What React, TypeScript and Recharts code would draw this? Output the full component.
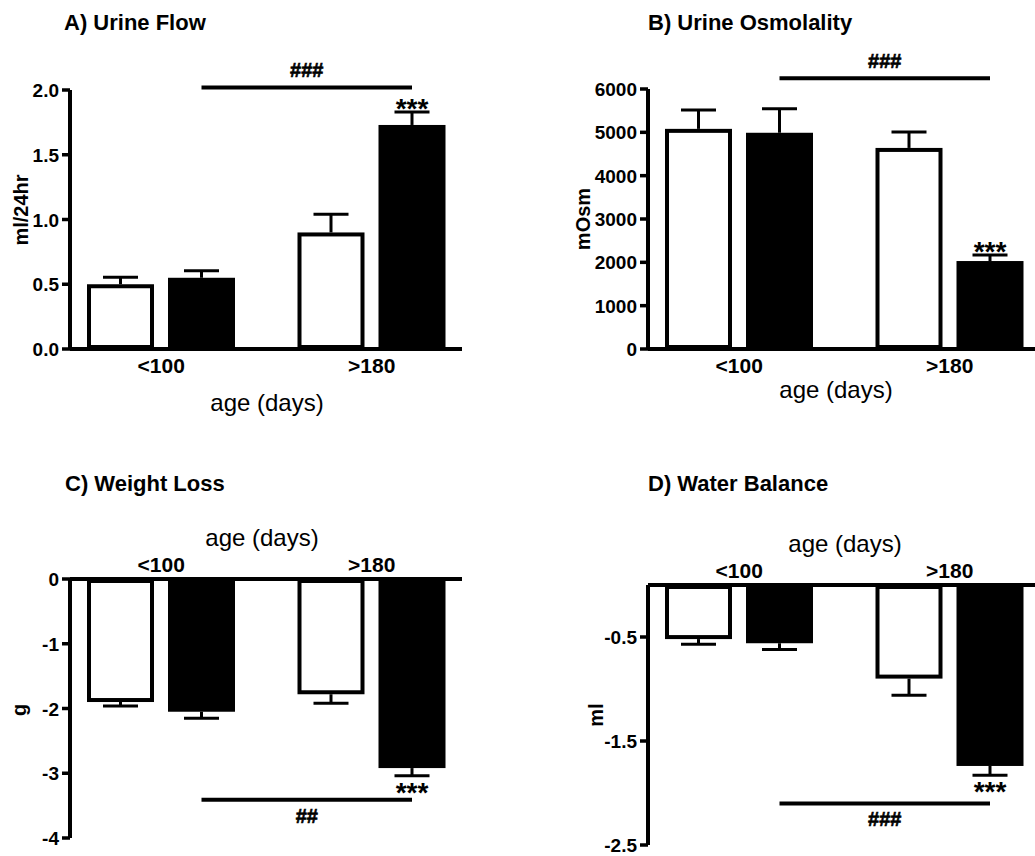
import React from 'react';
import { BarChart, Bar, XAxis, YAxis } from 'recharts';

const FONT = '"Liberation Sans", Arial, Helvetica, sans-serif';

const ageGroups = ['<100', '>180'];

// A) Urine Flow, ml/24hr
const flowOpen = [0.5, 0.9];
const flowOpenSem = [0.055, 0.14];
const flowFilled = [0.55, 1.73];
const flowFilledSem = [0.055, 0.1];
const flowStars = ['', '***'];
const flowTicks = [0, 0.5, 1.0, 1.5, 2.0];

// B) Urine Osmolality, mOsm
const osmOpen = [5080, 4640];
const osmOpenSem = [435, 370];
const osmFilled = [4990, 2030];
const osmFilledSem = [555, 140];
const osmStars = ['', '***'];
const osmTicks = [0, 1000, 2000, 3000, 4000, 5000, 6000];

// C) Weight Loss, g
const weightOpen = [-1.9, -1.78];
const weightOpenSem = [0.06, 0.14];
const weightFilled = [-2.05, -2.92];
const weightFilledSem = [0.1, 0.12];
const weightStars = ['', '***'];
const weightTicks = [0, -1, -2, -3, -4];

// D) Water Balance, ml
const balanceOpen = [-0.52, -0.9];
const balanceOpenSem = [0.05, 0.16];
const balanceFilled = [-0.56, -1.74];
const balanceFilledSem = [0.06, 0.09];
const balanceStars = ['', '***'];
const balanceTicks = [-0.5, -1.5, -2.5];

type Row = {
  age: string;
  open: number;
  filled: number;
  openSem: number;
  filledSem: number;
};

const buildRows = (open: number[], openSem: number[], filled: number[], filledSem: number[]): Row[] =>
  ageGroups.map((age, i) => ({
    age,
    open: open[i],
    filled: filled[i],
    openSem: openSem[i],
    filledSem: filledSem[i],
  }));

const OUTLINE = 4;
const CAP = 17.5;

// one-sided SEM bar, away from zero, in the bar's own pixel scale
function semMark(props: any, v: number, sem: number) {
  const { x, y, width, height } = props;
  const zero = y + height;
  const k = height / v;
  const at = (u: number) => zero - u * k;
  const cx = x + width / 2;
  const capY = at(v + (v >= 0 ? sem : -sem));
  return {
    capY,
    at,
    cx,
    el: (
      <g stroke="#000" strokeWidth={3}>
        <line x1={cx} x2={cx} y1={y} y2={capY} />
        <line x1={cx - CAP} x2={cx + CAP} y1={capY} y2={capY} />
      </g>
    ),
  };
}

const OpenBar = (props: any) => {
  const { x, y, width, height, payload } = props;
  const top = Math.min(y, y + height);
  const h = Math.abs(height);
  const err = semMark(props, payload.open, payload.openSem);
  return (
    <g>
      <rect
        x={x + OUTLINE / 2}
        y={top + OUTLINE / 2}
        width={width - OUTLINE}
        height={Math.max(h - OUTLINE, 0)}
        fill="#fff"
        stroke="#000"
        strokeWidth={OUTLINE}
      />
      {err.el}
    </g>
  );
};

// filled bar also carries the significance marks and the bracket between the two filled bars
function makeFilledBar(stars: string[], bracketLevel: number, bracketText: string) {
  const centers: number[] = [];
  return (props: any) => {
    const { x, y, width, height, index, payload } = props;
    const v: number = payload.filled;
    const err = semMark(props, v, payload.filledSem);
    const cx = err.cx;
    centers[index] = cx;
    const top = Math.min(y, y + height);
    const up = v >= 0;
    const star = stars[index];
    const last = index === ageGroups.length - 1;
    const lineY = err.at(bracketLevel);
    return (
      <g>
        <rect x={x} y={top} width={width} height={Math.abs(height)} fill="#000" />
        {err.el}
        {star ? (
          <text x={cx} y={up ? err.capY + 6 : err.capY + 26} textAnchor="middle" fontSize={28} fontWeight="bold" fontFamily={FONT} fill="#000">
            {star}
          </text>
        ) : null}
        {last && centers[0] !== undefined ? (
          <g>
            <line x1={centers[0]} x2={cx} y1={lineY} y2={lineY} stroke="#000" strokeWidth={4} />
            <text
              x={(centers[0] + cx) / 2}
              y={up ? lineY - 10 : lineY + 23}
              textAnchor="middle"
              fontSize={20}
              fontWeight="bold"
              fontFamily={FONT}
              fill="#000"
              stroke="#000"
              strokeWidth={0.6}
            >
              {bracketText}
            </text>
          </g>
        ) : null}
      </g>
    );
  };
}

const BottomTick = (p: any) => (
  <text x={p.x} y={p.y + 24} textAnchor="middle" fontSize={21} fontWeight="bold" fontFamily={FONT} fill="#000">
    {p.payload.value}
  </text>
);

const TopTick = (p: any) => (
  <text x={p.x} y={p.y - 7} textAnchor="middle" fontSize={21} fontWeight="bold" fontFamily={FONT} fill="#000">
    {p.payload.value}
  </text>
);

interface PanelProps {
  rows: Row[];
  domain: [number, number];
  ticks: number[];
  fmt: (v: number) => string;
  axisTop?: boolean;
  left: number;
  top: number;
  width: number;
  height: number;
  margin: { top: number; right: number; bottom: number; left: number };
  stars: string[];
  bracketLevel: number;
  bracketText: string;
}

function Panel(p: PanelProps) {
  const filledShape = makeFilledBar(p.stars, p.bracketLevel, p.bracketText);
  return (
    <div style={{ position: 'absolute', left: p.left, top: p.top }}>
      <BarChart width={p.width} height={p.height} data={p.rows} margin={p.margin} barGap={14}>
        <XAxis
          dataKey="age"
          orientation={p.axisTop ? 'top' : 'bottom'}
          height={30}
          padding={{ left: -14, right: -15 }}
          tickLine={false}
          tickSize={0}
          tickMargin={0}
          interval={0}
          axisLine={{ stroke: '#000', strokeWidth: 4 }}
          tick={p.axisTop ? TopTick : BottomTick}
        />
        <YAxis
          type="number"
          domain={p.domain}
          ticks={p.ticks}
          interval={0}
          width={70}
          tickSize={8}
          tickMargin={3}
          axisLine={{ stroke: '#000', strokeWidth: 4 }}
          tickLine={{ stroke: '#000', strokeWidth: 3.5 }}
          tick={(t: any) => (
            <text x={t.x} y={t.y + 7} textAnchor="end" fontSize={19} fontWeight="bold" fontFamily={FONT} fill="#000">
              {p.fmt(t.payload.value)}
            </text>
          )}
        />
        <Bar dataKey="open" barSize={67} shape={OpenBar} isAnimationActive={false} />
        <Bar dataKey="filled" barSize={67} shape={filledShape} isAnimationActive={false} />
      </BarChart>
    </div>
  );
}

const titleStyle = { fontSize: 22, fontWeight: 'bold' as const, fontFamily: FONT, fill: '#000' };
const yTitleStyle = { fontSize: 20, fontWeight: 'bold' as const, fontFamily: FONT, fill: '#000' };
const ageStyle = { fontSize: 24, fontFamily: FONT, fill: '#000' };

export default function App() {
  return (
    <div style={{ position: 'absolute', left: 0, top: 0, width: 1035, height: 856, overflow: 'hidden', background: '#fff' }}>
      <Panel
        rows={buildRows(flowOpen, flowOpenSem, flowFilled, flowFilledSem)}
        domain={[0, 2]}
        ticks={flowTicks}
        fmt={(v) => v.toFixed(1)}
        left={0}
        top={0}
        width={517}
        height={420}
        margin={{ top: 90, right: 55, bottom: 41, left: 0 }}
        stars={flowStars}
        bracketLevel={2.02}
        bracketText="###"
      />
      <Panel
        rows={buildRows(osmOpen, osmOpenSem, osmFilled, osmFilledSem)}
        domain={[0, 6000]}
        ticks={osmTicks}
        fmt={(v) => String(v)}
        left={578}
        top={0}
        width={470}
        height={420}
        margin={{ top: 89, right: 8, bottom: 41, left: 0 }}
        stars={osmStars}
        bracketLevel={6250}
        bracketText="###"
      />
      <Panel
        rows={buildRows(weightOpen, weightOpenSem, weightFilled, weightFilledSem)}
        domain={[-4, 0]}
        ticks={weightTicks}
        fmt={(v) => String(v)}
        axisTop
        left={0}
        top={440}
        width={517}
        height={416}
        margin={{ top: 109, right: 55, bottom: 18, left: 0 }}
        stars={weightStars}
        bracketLevel={-3.41}
        bracketText="##"
      />
      <Panel
        rows={buildRows(balanceOpen, balanceOpenSem, balanceFilled, balanceFilledSem)}
        domain={[-2.5, 0]}
        ticks={balanceTicks}
        fmt={(v) => v.toFixed(1)}
        axisTop
        left={578}
        top={440}
        width={470}
        height={416}
        margin={{ top: 115, right: 8, bottom: 11, left: 0 }}
        stars={balanceStars}
        bracketLevel={-2.1}
        bracketText="###"
      />
      <svg width={1035} height={856} style={{ position: 'absolute', left: 0, top: 0, pointerEvents: 'none' }}>
        <text x={64} y={30} {...titleStyle}>A) Urine Flow</text>
        <text x={648} y={30} {...titleStyle}>B) Urine Osmolality</text>
        <text x={65} y={491} {...titleStyle}>C) Weight Loss</text>
        <text x={648} y={491} {...titleStyle}>D) Water Balance</text>

        <text transform="translate(28,210) rotate(-90)" textAnchor="middle" {...yTitleStyle}>ml/24hr</text>
        <text transform="translate(590,219) rotate(-90)" textAnchor="middle" {...yTitleStyle}>mOsm</text>
        <text transform="translate(26,710) rotate(-90)" textAnchor="middle" {...yTitleStyle}>g</text>
        <text transform="translate(603,715) rotate(-90)" textAnchor="middle" {...yTitleStyle}>ml</text>

        <text x={267} y={411} textAnchor="middle" {...ageStyle}>age (days)</text>
        <text x={836} y={398} textAnchor="middle" {...ageStyle}>age (days)</text>
        <text x={262} y={546} textAnchor="middle" {...ageStyle}>age (days)</text>
        <text x={845} y={552} textAnchor="middle" {...ageStyle}>age (days)</text>
      </svg>
    </div>
  );
}
